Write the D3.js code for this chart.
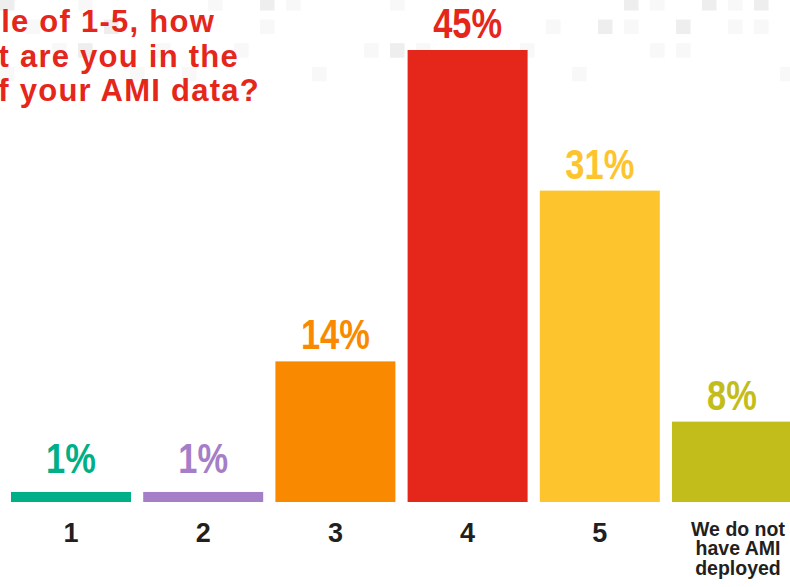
<!DOCTYPE html>
<html>
<head>
<meta charset="utf-8">
<script src="https://cdn.jsdelivr.net/npm/d3@7"></script>
<style>
  html, body { margin: 0; padding: 0; background: #ffffff; }
  svg { display: block; }
</style>
</head>
<body>
<svg id="chart" width="790" height="587"></svg>
<script>
// ---- data ----
const categories = ["1", "2", "3", "4", "5", "We do not\nhave AMI\ndeployed"];
const values = [1, 1, 14, 45, 31, 8];
const barColors = ["#00af87", "#a57ec8", "#f98a00", "#e5261b", "#fdc42d", "#c3bd1c"];
const titleLines = ["le of 1-5, how", "t are you in the", "f your AMI data?"];
// decorative background squares: [column, row, shade]
const squares = [
  [0,0,"d"],[3,0,"l"],[8,0,"l"],[10,0,"d"],[11,0,"l"],[15,0,"l"],[24,0,"d"],[25,0,"l"],[27,0,"d"],[28,0,"l"],[29,0,"d"],
  [1,1,"l"],[4,1,"d"],[10,1,"l"],[21,1,"l"],[23,1,"d"],[24,1,"l"],[26,1,"d"],[28,1,"l"],[29,1,"l"],
  [2,2,"l"],[3,2,"d"],[6,2,"l"],[9,2,"l"],[14,2,"l"],[15,2,"d"],[16,2,"l"],[20,2,"l"],[25,2,"l"],[26,2,"l"],
  [0,3,"l"],[5,3,"l"],[7,3,"l"],[12,3,"l"],[22,3,"l"],[30,3,"l"]
];

const svg = d3.select("#chart");
const baseline = 502;
const FONT = "'Liberation Sans', Arial, Helvetica, sans-serif";

// background squares
svg.append("g").selectAll("rect").data(squares).join("rect")
  .attr("x", d => d[0] * 26)
  .attr("y", d => -4 + d[1] * 23.6)
  .attr("width", 14.5)
  .attr("height", 14.5)
  .attr("fill", d => d[2] === "d" ? "#eeeeee" : "#f8f8f8");

// title (cropped fragment, right edges as in reference)
const titleRight = [215, 239, 260];
svg.append("g").selectAll("text").data(titleLines).join("text")
  .attr("x", (d, i) => titleRight[i])
  .attr("y", (d, i) => 32 + i * 34.7)
  .attr("text-anchor", "end")
  .attr("fill", "#e5261b")
  .style("font-family", FONT)
  .style("font-weight", "bold")
  .style("font-size", "31px")
  .style("letter-spacing", "1.25px")
  .text(d => d);

// scales
const x = d3.scaleBand()
  .domain(categories)
  .range([11, 792])
  .paddingInner(0.0923)
  .paddingOuter(0);

const y = d3.scaleLinear()
  .domain([0, 45])
  .range([baseline, 50]);

const data = categories.map((c, i) => ({ c, v: values[i], color: barColors[i] }));

// bars
svg.append("g").selectAll("rect").data(data).join("rect")
  .attr("x", d => x(d.c))
  .attr("y", d => y(d.v))
  .attr("width", x.bandwidth())
  .attr("height", d => y(0) - y(d.v))
  .attr("fill", d => d.color);

// value labels (condensed bold)
svg.append("g").selectAll("text").data(data).join("text")
  .attr("transform", d => {
    const cx = x(d.c) + x.bandwidth() / 2;
    const ty = Math.min(y(d.v) - 12, y(0) - 29);
    return `translate(${cx},${ty}) scale(0.82,1)`;
  })
  .attr("text-anchor", "middle")
  .attr("fill", d => d.color)
  .style("font-family", FONT)
  .style("font-weight", "bold")
  .style("font-size", "42px")
  .text(d => d.v + "%");

// category axis labels
const catG = svg.append("g");
data.forEach(d => {
  const lines = d.c.split("\n");
  const cx = x(d.c) + x.bandwidth() / 2;
  if (lines.length === 1) {
    catG.append("text")
      .attr("x", cx).attr("y", 541.5)
      .attr("text-anchor", "middle")
      .attr("fill", "#231f20")
      .style("font-family", FONT)
      .style("font-weight", "bold")
      .style("font-size", "27px")
      .text(d.c);
  } else {
    lines.forEach((ln, i) => {
      catG.append("text")
        .attr("x", cx + 6).attr("y", 535.5 + i * 19.6)
        .attr("text-anchor", "middle")
        .attr("fill", "#231f20")
        .style("font-family", FONT)
        .style("font-weight", "bold")
        .style("font-size", "19.5px")
        .text(ln);
    });
  }
});
</script>
</body>
</html>
